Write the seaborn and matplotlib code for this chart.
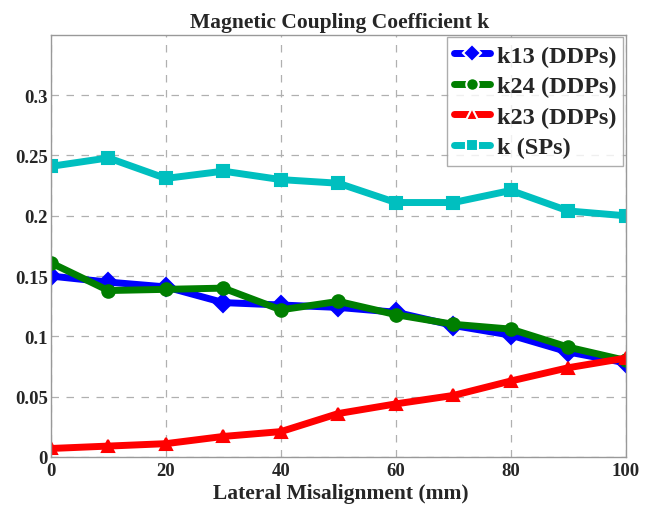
import matplotlib
matplotlib.use("Agg")
import matplotlib.pyplot as plt
import seaborn as sns
import pandas as pd

misalign = [0, 10, 20, 30, 40, 50, 60, 70, 80, 90, 100]
k13 = [0.150, 0.145, 0.141, 0.128, 0.126, 0.124, 0.120, 0.109, 0.101, 0.087, 0.078]
k24 = [0.161, 0.138, 0.139, 0.140, 0.122, 0.129, 0.118, 0.110, 0.106, 0.091, 0.080]
k23 = [0.007, 0.009, 0.011, 0.017, 0.021, 0.036, 0.044, 0.051, 0.063, 0.074, 0.082]
k_sp = [0.241, 0.248, 0.231, 0.237, 0.230, 0.227, 0.211, 0.211, 0.221, 0.204, 0.200]

series = ["k13 (DDPs)", "k24 (DDPs)", "k23 (DDPs)", "k (SPs)"]
colors = ["#0000ff", "#007f00", "#ff0000", "#00bfbf"]
markers = ["D", "o", "^", "s"]

df = pd.DataFrame({
    "x": misalign * 4,
    "k": k13 + k24 + k23 + k_sp,
    "series": sum([[s] * len(misalign) for s in series], []),
})

sns.set_style("white")
plt.rcParams['font.family'] = ['Liberation Serif', 'DejaVu Serif']
plt.rcParams['font.weight'] = 'bold'

fig = plt.figure(figsize=(6.52, 5.06), dpi=100)
ax = fig.add_axes([0.078, 0.095, 0.882, 0.834])

sns.lineplot(data=df, x="x", y="k", hue="series", style="series",
             palette=colors, markers=markers, dashes=False,
             linewidth=5, markersize=9, markeredgewidth=1.5,
             ax=ax)
for line, c in zip(ax.get_lines(), colors):
    line.set_markeredgecolor(c)

ax.set_xlim(0, 100)
ax.set_ylim(0, 0.35)
ax.set_xticks([0, 20, 40, 60, 80, 100])
ax.set_yticks([0, 0.05, 0.1, 0.15, 0.2, 0.25, 0.3])
ax.set_yticklabels(["0", "0.05", "0.1", "0.15", "0.2", "0.25", "0.3"])
ax.grid(True, linestyle=(0, (6, 6)), color="#b0b0b0", linewidth=0.9)
ax.tick_params(labelsize=13.5, length=0)
ax.tick_params(axis="x", pad=4)
ax.tick_params(axis="y", pad=2)
for lab in ax.get_xticklabels() + ax.get_yticklabels():
    lab.set_fontweight("bold")
for sp in ax.spines.values():
    sp.set_color("#999999")
    sp.set_linewidth(1)

ax.set_xlabel("Lateral Misalignment (mm)", fontsize=15.5, fontweight="bold")
ax.xaxis.set_label_coords(0.505, -0.062)
ax.set_ylabel("")
ax.set_title("Magnetic Coupling Coefficient k", fontsize=15.5, fontweight="bold",
             x=0.503, pad=6)

leg = ax.legend(loc="upper right", fontsize=17.5, frameon=True, fancybox=False,
                borderaxespad=0.1, handlelength=1.5, handletextpad=0.25,
                labelspacing=0.35, borderpad=0.3, markerscale=1.0)
leg.get_frame().set_edgecolor("#999999")
leg.get_frame().set_linewidth(1)
for t in leg.get_texts():
    t.set_fontweight("bold")

fig.savefig("out.png", dpi=100)
